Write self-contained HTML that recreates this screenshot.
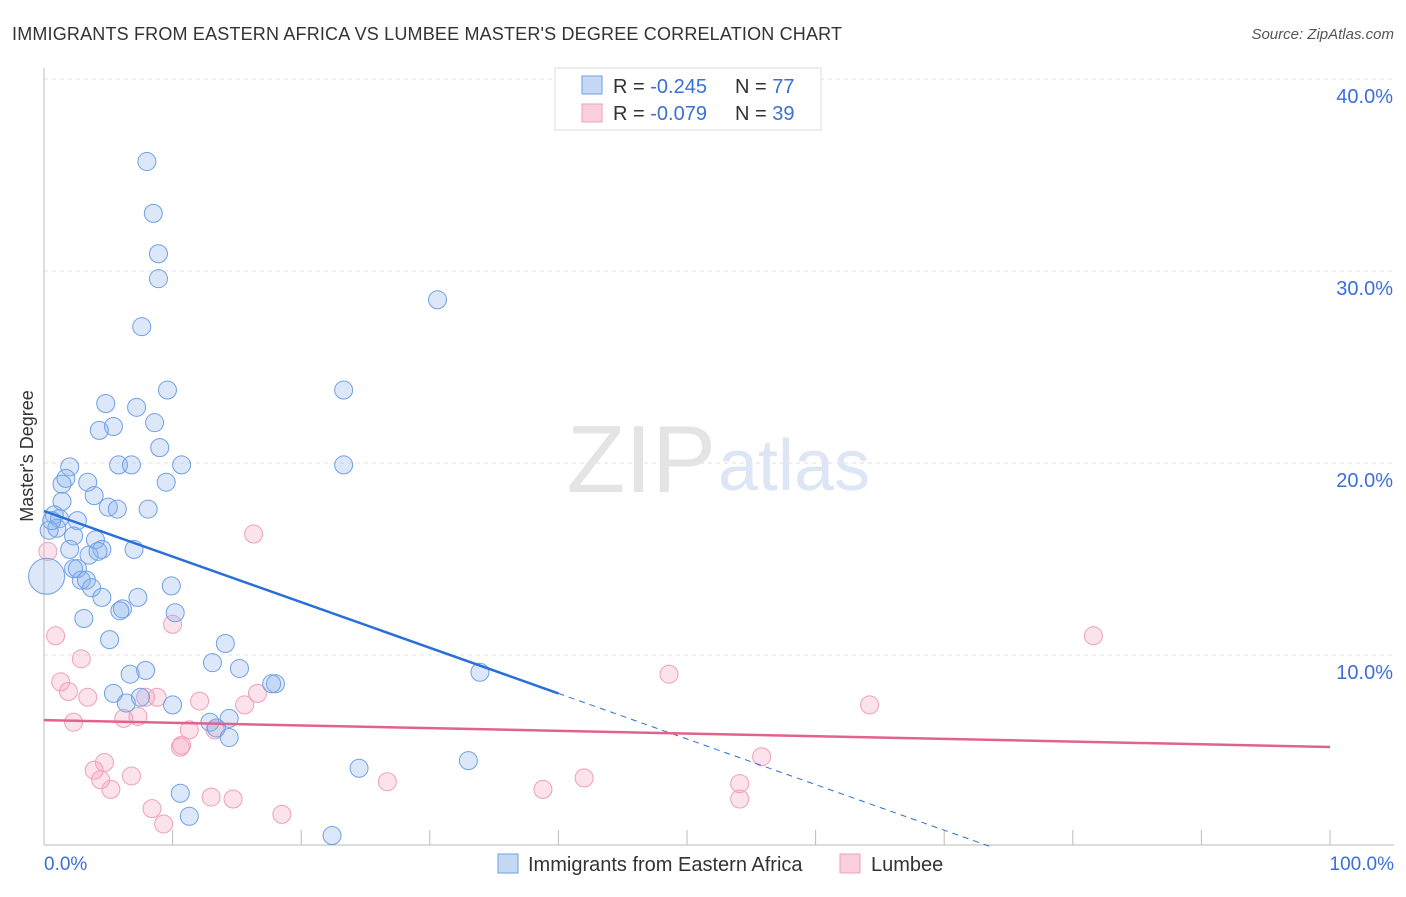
<!DOCTYPE html>
<html><head><meta charset="utf-8"><style>
body{margin:0;background:#fff;font-family:"Liberation Sans",sans-serif}
svg text{font-family:"Liberation Sans",sans-serif}
</style></head><body>
<svg id="c" width="1406" height="892"></svg>
<script>
const blueX=[8,8.5,8.9,8.9,7.6,30.6,9.6,23.3,4.8,7.2,8.6,5.4,4.3,9,5.8,6.8,10.7,23.3,2,1.7,3.4,1.4,9.5,1.4,3.9,5,5.7,8.1,0.8,1.2,2.6,1,0.4,2.3,4,2,7,4.5,3.5,4.2,2.3,2.6,2.9,3.3,3.7,4.5,7.3,9.9,6.1,5.9,3.1,10.2,5.1,14.1,13.1,7.9,6.7,15.2,5.4,7.5,18,17.7,10,6.4,14.4,12.9,13.4,14.4,33.9,33,24.5,10.6,11.3,22.4,0.2,0.6];
const blueY=[35.7,33,30.9,29.6,27.1,28.5,23.8,23.8,23.1,22.9,22.1,21.9,21.7,20.8,19.9,19.9,19.9,19.9,19.8,19.2,19.0,18.9,19.0,18.0,18.3,17.7,17.6,17.6,17.3,17.1,17.0,16.6,16.5,16.2,16,15.5,15.5,15.5,15.2,15.4,14.5,14.5,13.9,13.9,13.5,13,13,13.6,12.4,12.3,11.9,12.2,10.8,10.6,9.6,9.2,9,9.3,8,7.8,8.5,8.5,7.4,7.5,6.7,6.5,6.2,5.7,9.1,4.5,4.1,2.8,1.6,0.6,14.1,17.0];
const blueR=[9,9,9,9,9,9,9,9,9,9,9,9,9,9,9,9,9,9,9,9,9,9,9,9,9,9,9,9,9,9,9,9,9,9,9,9,9,9,9,9,9,9,9,9,9,9,9,9,9,9,9,9,9,9,9,9,9,9,9,9,9,9,9,9,9,9,9,9,9,9,9,9,9,9,18,9];
const pinkX=[16.3,0.3,0.9,2.9,10,81.6,48.6,64.2,1.3,1.9,3.4,7.9,8.8,12.1,16.6,15.6,2.3,6.2,7.3,11.3,13.3,10.7,10.6,4.7,3.9,4.4,5.2,6.8,26.7,42,55.8,54.1,54.1,38.8,13,14.7,8.4,9.3,18.5];
const pinkY=[16.3,15.4,11,9.8,11.6,11,9.0,7.4,8.6,8.1,7.8,7.8,7.8,7.6,8,7.4,6.5,6.7,6.8,6.1,6.1,5.3,5.2,4.4,4,3.5,3.0,3.7,3.4,3.6,4.7,3.3,2.5,3,2.6,2.5,2,1.2,1.7];
const ticksY=[10,20,30,40];
const blueTrend=[17.5,-0.2375];
const pinkTrend=[6.61,-0.014];
const NS='http://www.w3.org/2000/svg';
const svg=document.getElementById('c');
const X=v=>44+v*12.86, Y=v=>847-v*19.2;
function el(t,a,p){const e=document.createElementNS(NS,t);for(const k in a)e.setAttribute(k,a[k]);(p||svg).appendChild(e);return e;}
let t;
t=el('text',{x:12,y:40,'font-size':18,fill:'#333',textLength:830});t.textContent="IMMIGRANTS FROM EASTERN AFRICA VS LUMBEE MASTER'S DEGREE CORRELATION CHART";

t=el('text',{x:1394,y:39,'font-size':15,fill:'#555','text-anchor':'end','font-style':'italic'});t.textContent="Source: ZipAtlas.com";

for(const v of ticksY){
 const g=el('line',{x1:44,x2:1394,y1:Y(v),y2:Y(v),stroke:'#e2e2e2','stroke-dasharray':'4,4'});
 
 t=el('text',{x:1393,y:Y(v)+24,'font-size':20,fill:'#3a6fd8','text-anchor':'end'});t.textContent=v.toFixed(1)+'%';
 
}
el('line',{x1:44,x2:44,y1:68,y2:845,stroke:'#bbb'});
el('line',{x1:44,x2:1394,y1:845,y2:845,stroke:'#bbb'});
for(let i=1;i<=10;i++){const l=el('line',{x1:X(i*10),x2:X(i*10),y1:830,y2:845,stroke:'#bbb'});}
t=el('text',{x:44,y:870,'font-size':19,fill:'#3a6fd8'});t.textContent='0.0%';
t=el('text',{x:1394,y:870,'font-size':19,fill:'#3a6fd8','text-anchor':'end'});t.textContent='100.0%';
t=el('text',{x:0,y:0,'font-size':18,fill:'#333','text-anchor':'middle',transform:'translate(33,456) rotate(-90)'});t.textContent="Master's Degree";

t=el('text',{x:716,y:492,'font-size':96,fill:'#e4e4e4','text-anchor':'end','font-family':'Liberation Serif'});t.textContent='ZIP';

t=el('text',{x:718,y:490,'font-size':72,fill:'#dce6f5'});t.textContent='atlas';

for(let i=0;i<pinkX.length;i++){const c=el('circle',{cx:X(pinkX[i]),cy:Y(pinkY[i]),r:9,fill:'rgba(244,160,190,0.3)',stroke:'#eea0bb'});
 }
for(let i=0;i<blueX.length;i++){const c=el('circle',{cx:X(blueX[i]),cy:Y(blueY[i]),r:blueR[i],fill:'rgba(140,180,235,0.3)',stroke:'#6fa0e6'});
 }
let l=el('line',{x1:X(0),y1:Y(blueTrend[0]),x2:X(40),y2:Y(blueTrend[0]+40*blueTrend[1]),stroke:'#2a6fd8','stroke-width':2.5});

const xe=-blueTrend[0]/blueTrend[1];
l=el('line',{x1:X(40),y1:Y(blueTrend[0]+40*blueTrend[1]),x2:X(xe),y2:Y(0),stroke:'#2a6fd8','stroke-width':1,'stroke-dasharray':'6,5'});

l=el('line',{x1:X(0),y1:Y(pinkTrend[0]),x2:X(100),y2:Y(pinkTrend[0]+100*pinkTrend[1]),stroke:'#e2628e','stroke-width':2.5});

const lg=el('g',{});
el('rect',{x:555,y:68,width:266,height:62,fill:'#fff',stroke:'#ddd'},lg);
el('rect',{x:582,y:76,width:20,height:18,fill:'rgba(140,180,235,0.5)',stroke:'#6fa0e6'},lg);
el('rect',{x:582,y:104,width:20,height:18,fill:'rgba(244,160,190,0.5)',stroke:'#eea0bb'},lg);
const rows=[['-0.245','77',93],['-0.079','39',120]];
for(const r of rows){
 t=el('text',{x:613,y:r[2],'font-size':20,fill:'#333'},lg);t.innerHTML='R = <tspan fill="#3a6fd8">'+r[0]+'</tspan>';
 t=el('text',{x:735,y:r[2],'font-size':20,fill:'#333'},lg);t.innerHTML='N = <tspan fill="#3a6fd8">'+r[1]+'</tspan>';
}
const bl=el('g',{});
el('rect',{x:498,y:854,width:20,height:19,fill:'rgba(140,180,235,0.5)',stroke:'#6fa0e6'},bl);
t=el('text',{x:528,y:871,'font-size':20,fill:'#333'},bl);t.textContent='Immigrants from Eastern Africa';
el('rect',{x:840,y:854,width:20,height:19,fill:'rgba(244,160,190,0.5)',stroke:'#eea0bb'},bl);
t=el('text',{x:871,y:871,'font-size':20,fill:'#333'},bl);t.textContent='Lumbee';
</script>
</body></html>
